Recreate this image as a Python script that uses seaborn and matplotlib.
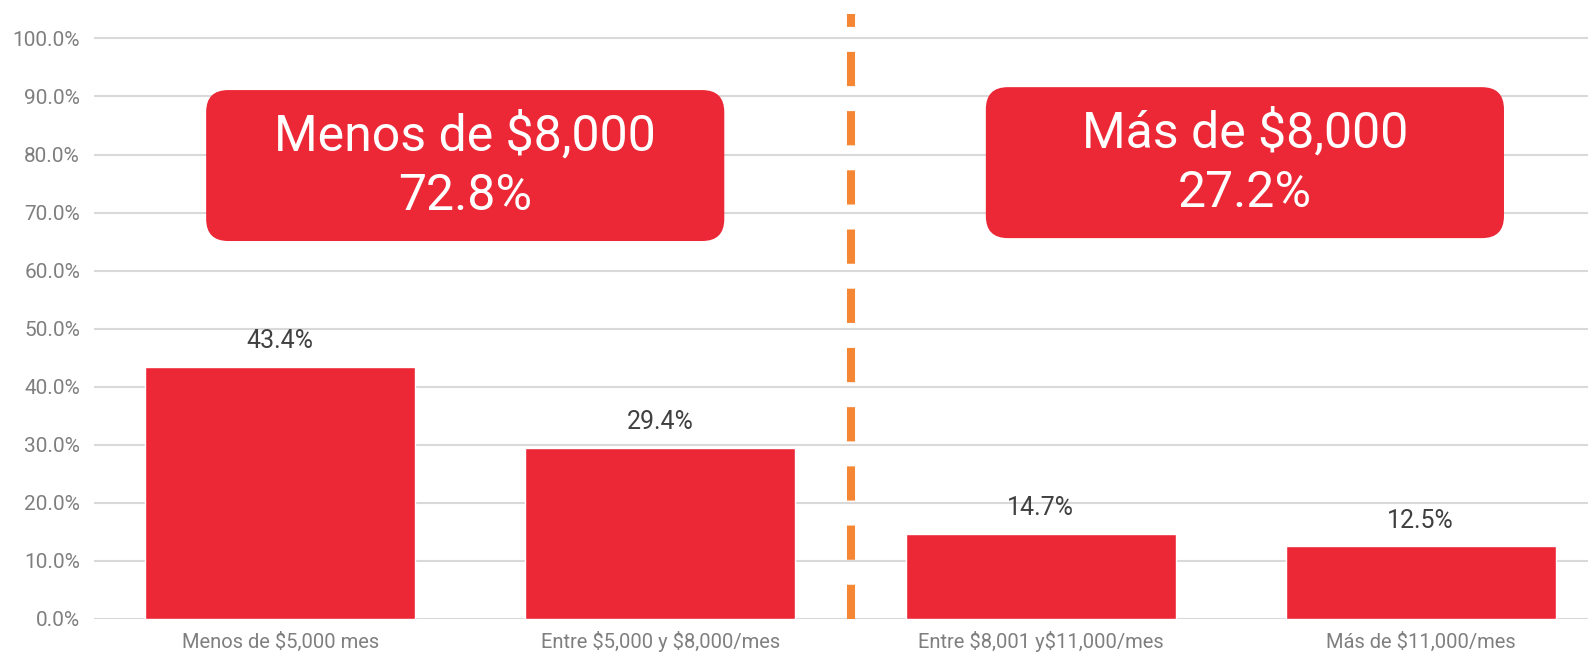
import matplotlib
matplotlib.use('Agg')
import matplotlib.pyplot as plt
import pandas as pd
import seaborn as sns
from matplotlib.patches import FancyBboxPatch
from matplotlib.ticker import FuncFormatter

# data
categories = [
    'Menos de $5,000 mes',
    'Entre $5,000 y $8,000/mes',
    'Entre $8,001 y$11,000/mes',
    'Más de $11,000/mes',
]
shares = [43.4, 29.4, 14.7, 12.5]

group_titles = ['Menos de $8,000', 'Más de $8,000']
group_totals = [72.8, 27.2]

red = '#EC2837'
orange = '#F58634'

df = pd.DataFrame({'categoria': categories, 'porcentaje': shares})

sns.set_style('white')
plt.rcParams['font.family'] = ['Roboto', 'DejaVu Sans']
plt.rcParams['text.parse_math'] = False

fig = plt.figure(figsize=(15.88, 6.54), dpi=100)
ax = fig.add_axes([94 / 1588, 35 / 654, 1 - 94 / 1588, 605 / 654])

sns.barplot(data=df, x='categoria', y='porcentaje', color=red, width=0.71,
            saturation=1, ax=ax, zorder=3)

ax.set_xlim(-0.49, 3.44)
ax.set_ylim(0, 104.2)
ax.set_yticks(range(0, 101, 10))
ax.yaxis.set_major_formatter(FuncFormatter(lambda v, p: f'{v:.1f}%'))
ax.grid(axis='y', color='#d9d9d9', linewidth=1.5, zorder=0)
ax.set_axisbelow(True)
for s in ax.spines.values():
    s.set_visible(False)
ax.set_xlabel('')
ax.set_ylabel('')
ax.tick_params(axis='y', length=0, labelsize=15, labelcolor='#7f7f7f', pad=10)
ax.tick_params(axis='x', length=0, labelsize=14.5, labelcolor='#7f7f7f', pad=9)

# value labels above bars
for i, v in enumerate(shares):
    ax.annotate(f'{v:.1f}%', (i, v), xytext=(0, 10), textcoords='offset points',
                ha='center', va='bottom', fontsize=18, color='#404040')

# dashed divider between the two groups
ax.plot([1.5, 1.5], [0, 104.2], color=orange, linewidth=5.8,
        dashes=(4.25, 3.1), solid_capstyle='butt', dash_capstyle='butt', zorder=4)

# rounded summary boxes
fig.canvas.draw()
p0 = ax.transData.transform((0, 0))
p1 = ax.transData.transform((1, 1))
aspect = (p1[0] - p0[0]) / (p1[1] - p0[1])
boxes = [(-0.195, 65.1, 1.363, 26.0), (1.856, 65.6, 1.363, 26.0)]
for (x0, y0, w, h), title, total in zip(boxes, group_titles, group_totals):
    patch = FancyBboxPatch((x0, y0), w, h,
                           boxstyle='round,pad=0,rounding_size=0.058',
                           mutation_aspect=aspect, facecolor=red,
                           edgecolor='none', zorder=5)
    ax.add_patch(patch)
    ax.text(x0 + w / 2, y0 + h / 2, f'{title}\n{total:.1f}%', ha='center',
            va='center', fontsize=36, color='white', linespacing=1.3, zorder=6)

fig.savefig('out.png', dpi=100)
